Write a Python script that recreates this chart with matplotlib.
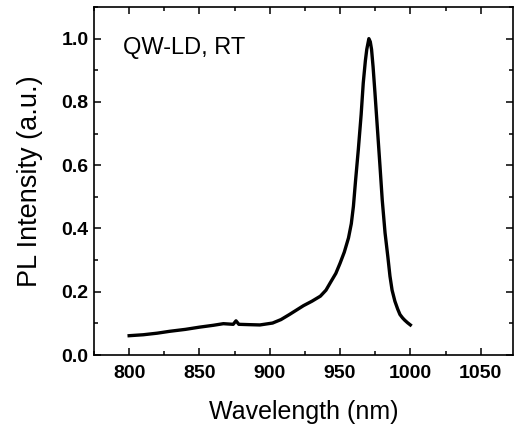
import matplotlib
matplotlib.use("Agg")
import matplotlib.pyplot as plt
from matplotlib.ticker import MultipleLocator

# PL spectrum of the quantum-well laser diode at room temperature
wavelength = [800, 810, 820, 829, 840, 850, 860, 867, 874, 876, 878, 885, 893,
              902, 908, 914, 919, 924, 930, 936, 940, 943, 947, 950, 953, 956,
              958, 959.5, 961, 963, 965, 966.5, 968, 969, 970.5, 971.5, 972.4,
              973.5, 974.8, 976.5, 978.4, 980, 982, 984, 985.5, 987, 989, 991,
              992.6, 994.5, 996, 998, 1000]
intensity = [0.061, 0.064, 0.069, 0.075, 0.081, 0.088, 0.094, 0.099, 0.097,
             0.108, 0.097, 0.096, 0.095, 0.101, 0.112, 0.128, 0.142, 0.156,
             0.170, 0.186, 0.205, 0.228, 0.258, 0.290, 0.325, 0.37, 0.415,
             0.47, 0.55, 0.65, 0.76, 0.86, 0.93, 0.966, 1.0, 0.99, 0.966,
             0.91, 0.83, 0.72, 0.597, 0.49, 0.386, 0.31, 0.249, 0.205, 0.17,
             0.145, 0.128, 0.117, 0.11, 0.102, 0.095]

x_ticks = [800, 850, 900, 950, 1000, 1050]
y_ticks = [0.0, 0.2, 0.4, 0.6, 0.8, 1.0]

plt.rcParams['font.family'] = ['Liberation Sans', 'DejaVu Sans']

fig = plt.figure(figsize=(5.17, 4.28), dpi=100)
ax = fig.add_axes([94 / 517, 1 - 355 / 428, 419 / 517, 348 / 428])

ax.plot(wavelength, intensity, color='black', lw=2.4, solid_joinstyle='round')

ax.set_xlim(775, 1073)
ax.set_ylim(0, 1.1)
ax.set_xticks(x_ticks)
ax.set_yticks(y_ticks)
ax.set_yticklabels(['%.1f' % v for v in y_ticks])
ax.xaxis.set_minor_locator(MultipleLocator(25))
ax.yaxis.set_minor_locator(MultipleLocator(0.1))
ax.tick_params(which='both', direction='in', top=True, right=True,
               width=1.1, labelsize=14)
ax.tick_params(which='major', length=5)
ax.tick_params(which='minor', length=3)
ax.tick_params(axis='x', pad=7)
ax.tick_params(axis='y', pad=4)
for lab in ax.get_xticklabels() + ax.get_yticklabels():
    lab.set_fontweight('bold')
for sp in ax.spines.values():
    sp.set_linewidth(1.2)

ax.set_xlabel('Wavelength (nm)', fontsize=18, labelpad=13)
ax.set_ylabel('PL Intensity (a.u.)', fontsize=19.5, labelpad=13)
ax.text(795.5, 0.95, 'QW-LD, RT', fontsize=17, va='baseline', ha='left')

fig.savefig('out.png', dpi=100)
